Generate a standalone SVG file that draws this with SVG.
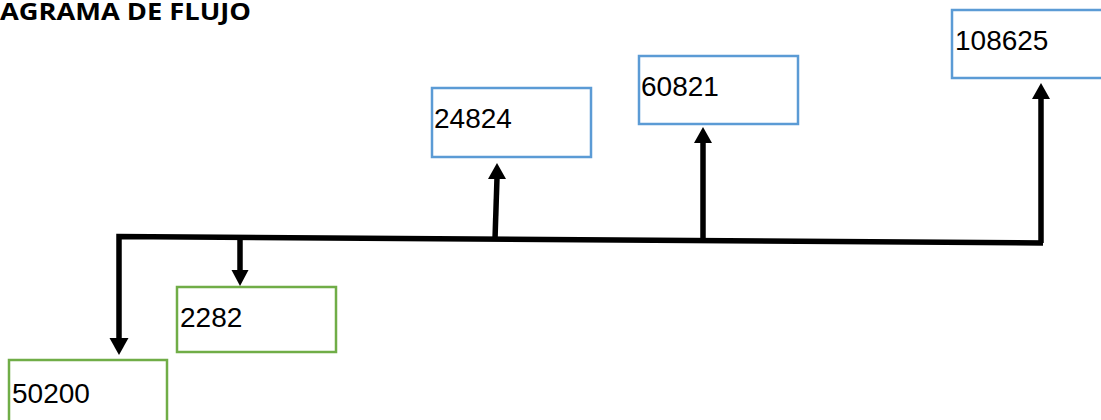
<svg xmlns="http://www.w3.org/2000/svg" width="1101" height="420" viewBox="0 0 1101 420">
<style>
.g{fill:#fff;stroke:#70AD47;stroke-width:2.5}
.b{fill:#fff;stroke:#5B9BD5;stroke-width:2.5}
.t{font-family:"Liberation Sans",Arial,sans-serif;font-size:28px;fill:#000}
.c{fill:none;stroke:#000;stroke-width:5.5}
.h{fill:#000}
</style>
<text x="0" y="20" textLength="251" lengthAdjust="spacingAndGlyphs" style="font-family:'Open Sans','Liberation Sans',Arial,sans-serif;font-size:23px;font-weight:bold">AGRAMA DE FLUJO</text>
<g id="node-50200"><rect class="g" x="9" y="360" width="158" height="70"/><text class="t" x="12" y="403">50200</text></g>
<g id="node-2282"><rect class="g" x="177" y="287" width="159" height="65"/><text class="t" x="180" y="327">2282</text></g>
<g id="node-24824"><rect class="b" x="432" y="88" width="159" height="69"/><text class="t" x="434" y="128">24824</text></g>
<g id="node-60821"><rect class="b" x="639" y="56" width="159" height="68"/><text class="t" x="641" y="96">60821</text></g>
<g id="node-108625"><rect class="b" x="952" y="10" width="160" height="68"/><text class="t" x="955" y="50">108625</text></g>
<g id="connectors">
<polyline class="c" points="119,340 119,236.5 1043,243"/>
<line class="c" x1="240" y1="237" x2="240" y2="272"/>
<line class="c" x1="495" y1="239" x2="497" y2="178"/>
<line class="c" x1="703" y1="241" x2="703" y2="142"/>
<line class="c" x1="1041" y1="243" x2="1041" y2="98"/>
<polygon class="h" points="109.5,338 128.5,338 119,355"/>
<polygon class="h" points="231.5,270 248.5,270 240,286"/>
<polygon class="h" points="488,179 506,179 497,163"/>
<polygon class="h" points="694,143 712,143 703,127"/>
<polygon class="h" points="1032,99 1050,99 1041,83"/>
</g>
</svg>
